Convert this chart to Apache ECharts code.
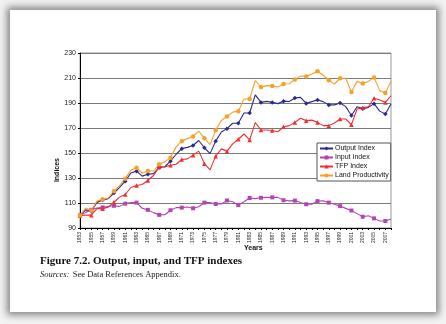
<!DOCTYPE html>
<html>
<head>
<meta charset="utf-8">
<script src="https://cdn.jsdelivr.net/npm/echarts@6/dist/echarts.min.js"></script>
<style>
  html, body { margin: 0; padding: 0; background: #f2f2f2; width: 446px; height: 324px; overflow: hidden; }
  #card { position: absolute; left: 10px; top: 10px; width: 426px; height: 302px; background: #fff;
          box-shadow: 0 0 7px 3px rgba(0,0,0,0.45); }
  #chart { position: absolute; left: 0; top: 0; width: 446px; height: 324px; }
</style>
</head>
<body>
<div id="card"></div>
<div id="chart"></div>
<script>
// Years 1953-2008
const years = [];
for (let y = 1953; y <= 2008; y++) years.push(String(y));

const outputIndex = [100, 104.5, 103.5, 110.5, 112.5, 113.5, 118, 122.5, 127.5, 134,
  135.5, 131.5, 133, 133.5, 138.5, 139, 143.5, 149, 153.5, 154.5,
  156, 160, 154.2, 149.5, 159.5, 166.8, 169.5, 173.8, 173.8, 182,
  182, 196.5, 190.5, 191.3, 190.5, 189.5, 191.5, 191.2, 194, 194.5,
  189.7, 191.1, 192.4, 191.1, 188.5, 188.5, 190, 187.1, 180, 187,
  185.5, 186.5, 189.5, 183.5, 181.2, 189.2];

const inputIndex = [100, 102.5, 104.5, 106, 106.5, 107.2, 107.8, 107.3, 109.5, 110.3,
  110.3, 105.8, 104.5, 102.3, 100.5, 100.6, 104.2, 106.3, 106.3, 106.8,
  105.8, 107, 110.3, 110.4, 109.2, 109.2, 112, 111, 108.3, 111,
  114, 113.5, 114.2, 114.5, 114.5, 114.5, 112.2, 111.7, 111.9, 110.4,
  109, 109, 111.5, 111.8, 110.3, 109, 107.5, 105.7, 104, 101.5,
  99, 99.8, 97.7, 95.6, 95.6, 97.2];

const tfpIndex = [100, 100.3, 100.3, 105.5, 105.5, 106.7, 110.6, 114.7, 116.8, 122.4,
  124, 124.8, 128, 132, 138.8, 138.8, 140.2, 141, 144.8, 145.3,
  148.3, 151.5, 141.5, 136.5, 147.5, 153.3, 151.5, 157.3, 161, 165.2,
  160.5, 174.3, 168.4, 168.4, 168, 167, 171, 171.9, 174.5, 177.8,
  175.9, 176.3, 174.5, 171.9, 171.9, 174, 177.2, 177.2, 172.7, 185.2,
  186.3, 187, 193.8, 192.4, 190.5, 195.8];

const landProductivity = [100, 106, 104, 111.5, 113, 114, 119.5, 124, 129.5, 136.3,
  138.2, 133.8, 135.6, 135.6, 141, 142.9, 146.3, 154.9, 159.5, 161.5,
  163.3, 167.5, 161.8, 156.7, 168.3, 176, 179.2, 182.7, 183.5, 193.2,
  193.2, 208, 202.8, 203.9, 203.7, 202.8, 205.2, 205.4, 208.9, 211.5,
  211.3, 213.2, 215.4, 212.2, 208.3, 205.2, 209.8, 209.8, 198.8, 207.3,
  205.6, 207.3, 210.5, 199.9, 198.1, 207.4];

const seriesNames = ['Output Index', 'Input Index', 'TFP Index', 'Land Productivity'];

const chart = echarts.init(document.getElementById('chart'), null, { renderer: 'canvas' });

function lineSeries(name, data, color, symbol, size) {
  return {
    name: name, type: 'line', data: data,
    symbol: symbol, symbolSize: size,
    lineStyle: { color: color, width: 1.1 },
    itemStyle: { color: color },
    emphasis: { disabled: true },
    animation: false
  };
}

const serif = 'Liberation Serif, Times New Roman, serif';

chart.setOption({
  animation: false,
  textStyle: { fontFamily: 'Liberation Sans, Arial, sans-serif' },
  grid: { left: 80, right: 55, top: 53, bottom: 96, show: true, borderColor: '#9a9a9a', borderWidth: 1 },
  xAxis: {
    type: 'category', data: years, boundaryGap: false,
    axisLine: { lineStyle: { color: '#000', width: 1 } },
    axisTick: { interval: 0, length: 2, lineStyle: { color: '#000' } },
    axisLabel: { interval: 1, rotate: 90, fontSize: 5, color: '#222', margin: 4 },
    splitLine: { show: false }
  },
  yAxis: {
    type: 'value', min: 90, max: 230, interval: 20,
    axisLine: { show: true, lineStyle: { color: '#000', width: 1 } },
    axisTick: { show: true, length: 2, lineStyle: { color: '#000' } },
    axisLabel: { fontSize: 7, color: '#222', margin: 4 },
    splitLine: { lineStyle: { color: '#7a7a7a', width: 1 } }
  },
  legend: {
    data: seriesNames, orient: 'vertical', left: 317, top: 143,
    itemWidth: 13, itemHeight: 5, itemGap: 2,
    padding: [2, 2, 2, 2], borderColor: '#555', borderWidth: 1, backgroundColor: '#fff',
    textStyle: { fontSize: 7, color: '#111', padding: [0, 0, 0, -3] }
  },
  graphic: [
    { type: 'text', left: 244, top: 245, style: { text: 'Years', font: 'bold 7px Liberation Sans, Arial, sans-serif', fill: '#111' } },
    { type: 'text', left: 54, top: 158, rotation: Math.PI / 2,
      style: { text: 'Indices', font: 'bold 7px Liberation Sans, Arial, sans-serif', fill: '#111' } },
    { type: 'text', left: 40, top: 256, style: { text: 'Figure 7.2. Output, input, and TFP indexes', font: 'bold 11px ' + serif, fill: '#111' } },
    { type: 'text', left: 40, top: 269, style: {
        text: '{i|Sources:} {r|See Data References Appendix.}',
        rich: {
          i: { fontFamily: serif, fontStyle: 'italic', fontSize: 8.5, fill: '#222' },
          r: { fontFamily: serif, fontSize: 8.5, fill: '#222' }
        }
      } }
  ],
  series: [
    lineSeries(seriesNames[0], outputIndex, '#2b2b8c', 'diamond', 4.5),
    lineSeries(seriesNames[1], inputIndex, '#b444b4', 'rect', 4),
    lineSeries(seriesNames[2], tfpIndex, '#f03030', 'triangle', 4.5),
    lineSeries(seriesNames[3], landProductivity, '#f7a02a', 'circle', 4.5)
  ]
});
</script>
</body>
</html>
